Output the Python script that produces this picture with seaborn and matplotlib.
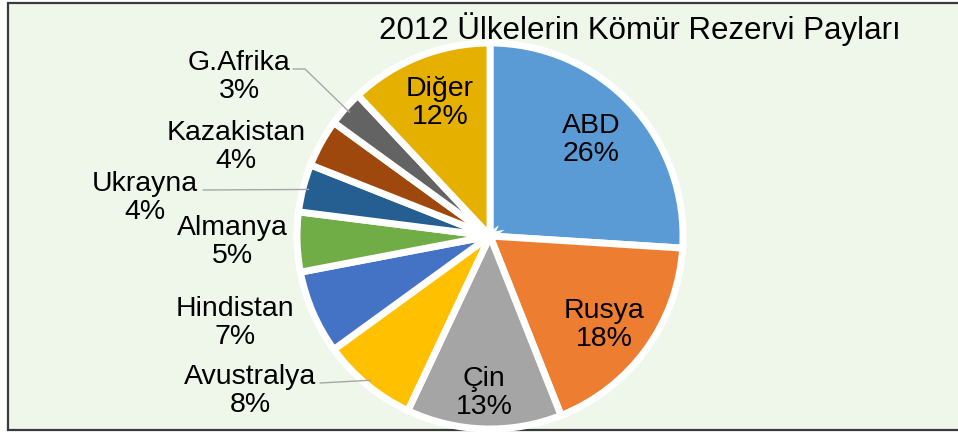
import matplotlib
matplotlib.use("Agg")
import matplotlib.pyplot as plt
import matplotlib.patches as mpatches
import numpy as np
import seaborn as sns

# data
ulkeler = ["ABD", "Rusya", "Çin", "Avustralya", "Hindistan",
           "Almanya", "Ukrayna", "Kazakistan", "G.Afrika", "Diğer"]
paylar = [26, 18, 13, 8, 7, 5, 4, 4, 3, 12]
renkler = ["#5B9BD5", "#ED7D31", "#A5A5A5", "#FFC000", "#4472C4",
           "#70AD47", "#255E91", "#9E480E", "#636363", "#E6B000"]
baslik = "2012 Ülkelerin Kömür Rezervi Payları"

sns.set_theme(style="white")
plt.rcParams["font.family"] = ["Liberation Sans", "DejaVu Sans"]

W, H = 958, 432
fig = plt.figure(figsize=(W / 100, H / 100), dpi=100, facecolor="white")
ax = fig.add_axes([0, 0, 1, 1])

# frame + background (pixel units, y from top)
ax.add_patch(mpatches.Rectangle((8, H - 430), W, 427, facecolor="#EFF7EB",
                                edgecolor="#3A3A3A", linewidth=1.6,
                                clip_on=False, zorder=0))

cx, cy, R = 490, H - 236, 193
wedges, _ = ax.pie(paylar, colors=renkler, startangle=90, counterclock=False,
                   center=(cx, cy), radius=R,
                   wedgeprops=dict(edgecolor="white", linewidth=5))
ax.set_xlim(0, W)
ax.set_ylim(0, H)
ax.set_aspect("auto")
ax.axis("off")

# label centres, pixel coords from top-left (placed like the excel labels)
etiket_yeri = {"ABD": (591, 140), "Rusya": (604, 325), "Çin": (484, 393),
               "Avustralya": (250, 391), "Hindistan": (235, 323),
               "Almanya": (232, 242), "Ukrayna": (145, 198),
               "Kazakistan": (236, 147), "G.Afrika": (239, 77),
               "Diğer": (440, 103)}
for ad, pay in zip(ulkeler, paylar):
    x, y = etiket_yeri[ad]
    ax.text(x, H - y, f"{ad}\n{pay}%", ha="center", va="center",
            fontsize=20.5, color="black", linespacing=1.12)

# leader lines for a few outside labels
cizgi_bas = {"G.Afrika": [(293, 69), (305, 69)], "Ukrayna": [(203, 190)],
             "Avustralya": [(320, 383)]}
for w, ad in zip(wedges, ulkeler):
    if ad not in cizgi_bas:
        continue
    ang = np.deg2rad((w.theta1 + w.theta2) / 2)
    ex, ey = cx + 0.97 * R * np.cos(ang), cy + 0.97 * R * np.sin(ang)
    pts = [(px, H - py) for px, py in cizgi_bas[ad]] + [(ex, ey)]
    xs, ys = zip(*pts)
    ax.plot(xs, ys, color="#A6A6A6", linewidth=1)

ax.text(640, H - 29, baslik, ha="center", va="center", fontsize=22.5,
        color="black")

fig.savefig("out.png", dpi=100, facecolor=fig.get_facecolor())
